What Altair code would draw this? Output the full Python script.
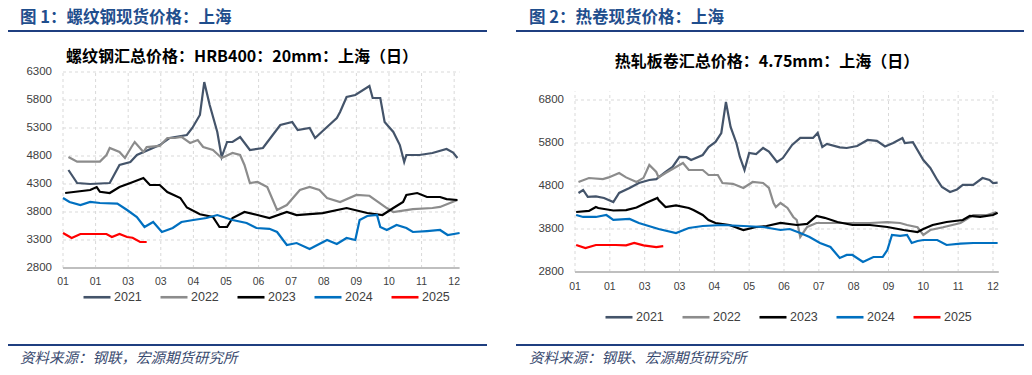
import altair as alt
import pandas as pd

YEARS = ["2021", "2022", "2023", "2024", "2025"]
COLORS = ["#44546A", "#8C8C8C", "#000000", "#0070C0", "#FF0000"]
X_TICKS = [0, 30, 60, 90, 120, 150, 180, 210, 240, 270, 300, 330, 360]
X_LABELS = ["01", "01", "03", "03", "04", "05", "06", "07", "08", "09", "10", "11", "12"]

RB_Y_TICKS = [2800, 3300, 3800, 4300, 4800, 5300, 5800, 6300]
HC_Y_TICKS = [2800, 3800, 4800, 5800, 6800]

# rebar (day of year, price)
rb21 = [(5,4550),(13,4318),(25,4300),(43,4318),(52,4640),(62,4693),(68,4818),(89,4996),(98,5121),(114,5175),
        (119,5300),(126,5532),(130,6121),(135,5710),(142,5229),(146,4782),(151,5050),(156,5050),(163,5139),(172,4907),
        (184,4943),(193,5175),(200,5354),(211,5407),(216,5264),(227,5300),(232,5121),(243,5318),(252,5479),(255,5586),
        (261,5854),(269,5890),(282,6050),(285,5836),(292,5836),(296,5407),(304,5229),(310,4996),(314,4693),(316,4818),
        (328,4818),(340,4854),(353,4925),(359,4860),(363,4764)]
rb22 = [(5,4782),(13,4700),(34,4700),(40,4818),(43,4943),(52,4871),(57,4764),(63,4961),(66,5050),(74,4871),
        (77,4960),(89,4980),(96,5121),(103,5121),(109,5140),(117,5032),(124,5086),(129,4961),(138,4907),(146,4764),
        (156,4854),(163,4818),(167,4640),(172,4318),(179,4336),(188,4246),(197,3836),(206,3925),(218,4193),(227,4246),
        (236,4193),(243,4050),(255,3979),(270,4104),(282,4090),(298,3871),(304,3800),(322,3850),(340,3871),(347,3890),
        (363,4014)]
rb23 = [(2,4139),(25,4193),(31,4246),(34,4160),(43,4139),(52,4246),(62,4318),(74,4407),(80,4282),(89,4282),
        (96,4157),(108,4050),(114,3880),(126,3760),(138,3711),(144,3532),(151,3532),(156,3693),(167,3800),(178,3750),
        (190,3693),(206,3800),(215,3746),(239,3780),(261,3871),(280,3782),(294,3746),(304,3871),(313,3979),(316,4104),
        (326,4139),(335,4068),(347,4068),(353,4030),(363,4014)]
rb24 = [(0,4050),(6,3979),(16,3925),(25,3980),(34,3961),(50,3950),(59,3836),(68,3711),(75,3532),(83,3621),
        (91,3443),(101,3514),(109,3621),(120,3657),(132,3693),(142,3746),(156,3657),(169,3604),(178,3514),(190,3500),
        (197,3443),(206,3211),(215,3246),(227,3139),(243,3300),(252,3230),(261,3336),(269,3300),(273,3657),(280,3729),
        (289,3746),(292,3532),(298,3479),(307,3568),(316,3514),(322,3443),(335,3460),(347,3479),(354,3389),(365,3425)]
rb25 = [(0,3425),(8,3336),(16,3407),(40,3407),(45,3354),(52,3407),(59,3354),(64,3340),(71,3264),(77,3264)]

# hot-rolled coil (day of year, price)
hc21 = [(3,4638),(7,4707),(11,4545),(18,4560),(25,4521),(33,4428),(38,4640),(47,4754),(55,4870),(64,4940),
        (70,4960),(78,5126),(84,5242),(90,5475),(96,5470),(100,5405),(110,5521),(115,5707),(121,5824),(126,6033),
        (130,6754),(134,6173),(139,5800),(142,5475),(146,5172),(150,5568),(156,5540),(162,5684),(167,5600),(174,5358),
        (179,5450),(187,5754),(194,5917),(205,5917),(209,6033),(213,5707),(217,5780),(228,5700),(234,5684),(243,5730),
        (252,5870),(260,5850),(267,5720),(274,5800),(282,5917),(284,5800),(291,5820),(300,5405),(306,5219),(312,4940),
        (316,4777),(323,4661),(329,4720),(334,4824),(343,4824),(351,4986),(357,4940),(360,4870),(364,4880)]
hc22 = [(3,4893),(12,4986),(24,4960),(29,5000),(38,5103),(44,5000),(53,4893),(59,4990),(64,5289),(70,5126),
        (72,5000),(78,5103),(87,5242),(93,5335),(98,5172),(110,5172),(115,5056),(123,5056),(127,4870),(136,4850),
        (145,4754),(153,4893),(162,4870),(167,4754),(171,4405),(173,4312),(177,4405),(183,4289),(188,4080),(191,4010),
        (194,3614),(200,3847),(208,3940),(217,3940),(228,3940),(245,3940),(254,3940),(269,3960),(280,3940),(286,3893),
        (295,3840),(300,3661),(306,3777),(317,3840),(332,3940),(343,4126),(355,4126),(363,4196)]
hc23 = [(1,4196),(12,4220),(18,4312),(20,4289),(33,4230),(44,4240),(53,4300),(61,4405),(71,4521),(72,4475),
        (78,4312),(87,4350),(98,4289),(102,4242),(110,4126),(115,4010),(121,3940),(133,3893),(145,3777),(156,3847),
        (165,3870),(177,3940),(191,3893),(200,3920),(208,4103),(215,4060),(226,3963),(239,3893),(254,3893),(269,3847),
        (283,3777),(295,3730),(300,3800),(308,3893),(320,3963),(334,4010),(340,4103),(349,4080),(360,4126),(364,4180)]
hc24 = [(1,4126),(7,4080),(18,4080),(27,4126),(33,4010),(47,4033),(55,3940),(72,3800),(87,3707),(98,3824),
        (110,3870),(127,3893),(145,3870),(162,3847),(177,3777),(185,3800),(194,3707),(202,3614),(211,3475),(220,3382),
        (228,3126),(234,3196),(239,3196),(248,3033),(257,3149),(265,3149),(269,3312),(273,3661),(280,3640),(286,3661),
        (290,3475),(295,3520),(300,3544),(312,3544),(320,3428),(332,3460),(343,3475),(355,3475),(364,3475)]
hc25 = [(1,3428),(9,3358),(18,3428),(35,3428),(44,3420),(51,3475),(59,3420),(70,3380),(76,3400)]

HEAD_BLUE = "#1F4E8D"
RULE_BLUE = "#1F3F80"
SRC_COLOR = "#3A4B70"
CJK = "Noto Sans CJK SC"
LAT = "Liberation Sans"


def series_df(pairs, year):
    return pd.DataFrame({"day": [p[0] for p in pairs], "val": [p[1] for p in pairs], "year": year})


def one_row():
    return pd.DataFrame({"k": [0]})


def panel(series, y_dom, y_ticks, x_rng, y_rng, label_dy, leg_x, leg_y):
    xs = alt.Scale(domain=[0, 365], range=x_rng, nice=False, zero=False)
    ys = alt.Scale(domain=y_dom, range=y_rng, nice=False, zero=False)
    grid = dict(color="#D9D9D9", strokeDash=[3, 3], strokeWidth=1)

    vgrid = alt.Chart(pd.DataFrame({"d": X_TICKS})).mark_rule(**grid).encode(
        x=alt.X("d:Q", scale=xs, axis=None),
        y=alt.YDatum(y_dom[0], type="quantitative", scale=ys, axis=None),
        y2=alt.Y2Datum(y_dom[1]),
    )
    hgrid = alt.Chart(pd.DataFrame({"v": y_ticks[1:]})).mark_rule(**grid).encode(
        y=alt.Y("v:Q", scale=ys, axis=None),
        x=alt.XDatum(0, type="quantitative", scale=xs, axis=None),
        x2=alt.X2Datum(365),
    )
    base = alt.Chart(one_row()).mark_rule(color="#BFBFBF", strokeWidth=2).encode(
        y=alt.YDatum(y_dom[0], type="quantitative", scale=ys, axis=None),
        x=alt.XDatum(0, type="quantitative", scale=xs, axis=None),
        x2=alt.X2Datum(365),
    )
    ylab = alt.Chart(pd.DataFrame({"v": y_ticks, "t": [str(v) for v in y_ticks]})).mark_text(
        align="right", baseline="middle", dx=-11, fontSize=11.5, font=LAT, color="#404040"
    ).encode(
        y=alt.Y("v:Q", scale=ys, axis=None),
        x=alt.XDatum(0, type="quantitative", scale=xs, axis=None),
        text="t:N",
    )
    xlab = alt.Chart(pd.DataFrame({"d": X_TICKS, "t": X_LABELS})).mark_text(
        align="center", baseline="middle", dy=label_dy, fontSize=10.5, font=LAT, color="#404040"
    ).encode(
        x=alt.X("d:Q", scale=xs, axis=None),
        y=alt.YDatum(y_dom[0], type="quantitative", scale=ys, axis=None),
        text="t:N",
    )
    legend = alt.Legend(
        orient="none", legendX=leg_x, legendY=leg_y, direction="horizontal", columns=5,
        title=None, symbolType="stroke", symbolSize=729, symbolStrokeWidth=2.6,
        labelFontSize=12.5, labelFont=LAT, labelColor="#404040", labelOffset=2,
        columnPadding=13, padding=0,
    )
    lines = []
    for pairs, yr in zip(series, YEARS):
        lines.append(
            alt.Chart(series_df(pairs, yr)).mark_line(strokeWidth=2.2).encode(
                x=alt.X("day:Q", scale=xs, axis=None),
                y=alt.Y("val:Q", scale=ys, axis=None),
                color=alt.Color("year:N", scale=alt.Scale(domain=YEARS, range=COLORS), legend=legend),
            )
        )
    return alt.layer(vgrid, hgrid, base, ylab, xlab, *lines)


def text_at(txt, x, y, size, color, weight="normal", style="normal", align="left",
            font=CJK, baseline="middle"):
    return alt.Chart(one_row()).mark_text(
        text=txt, align=align, baseline=baseline, fontSize=size, font=font,
        fontWeight=weight, fontStyle=style, color=color,
    ).encode(x=alt.value(x), y=alt.value(y))


def hrule(x1, x2, y):
    return alt.Chart(one_row()).mark_rule(color=RULE_BLUE, strokeWidth=2).encode(
        x=alt.value(x1), x2=alt.value(x2), y=alt.value(y)
    )


p1 = panel([rb21, rb22, rb23, rb24, rb25], [2800, 6300], RB_Y_TICKS,
           [55, 451.6], [260, 64], 14, 74, 274)
p2 = panel([hc21, hc22, hc23, hc24, hc25], [2800, 7000], HC_Y_TICKS,
           [567, 990.8], [264, 83.4], 15, 596, 294)

deco = [
    text_at("图 1：螺纹钢现货价格：上海", 12, 2, 16.5, HEAD_BLUE, weight="bold", baseline="top"),
    text_at("图 2：热卷现货价格：上海", 521, 2, 16.5, HEAD_BLUE, weight="bold", baseline="top"),
    hrule(0, 479, 23),
    hrule(508, 1016, 23),
    text_at("螺纹钢汇总价格：HRB400：20mm：上海（日）", 234, 49, 16, "#000000", weight="bold", align="center"),
    text_at("热轧板卷汇总价格：4.75mm：上海（日）", 759, 54, 16, "#000000", weight="bold", align="center"),
    hrule(0, 479, 337),
    hrule(508, 1016, 337),
    text_at("资料来源：钢联，宏源期货研究所", 12, 351, 14.5, SRC_COLOR, style="italic"),
    text_at("资料来源：钢联、宏源期货研究所", 521, 351, 14.5, SRC_COLOR, style="italic"),
]

chart = alt.layer(*deco, p1, p2).resolve_scale(
    x="independent", y="independent", color="independent"
).resolve_legend(color="independent").properties(
    width=1016, height=359, padding=0, autosize=alt.AutoSizeParams(type="none")
).configure_view(stroke=None)

chart.save("out.html", embed_options={"renderer": "svg", "actions": False})
